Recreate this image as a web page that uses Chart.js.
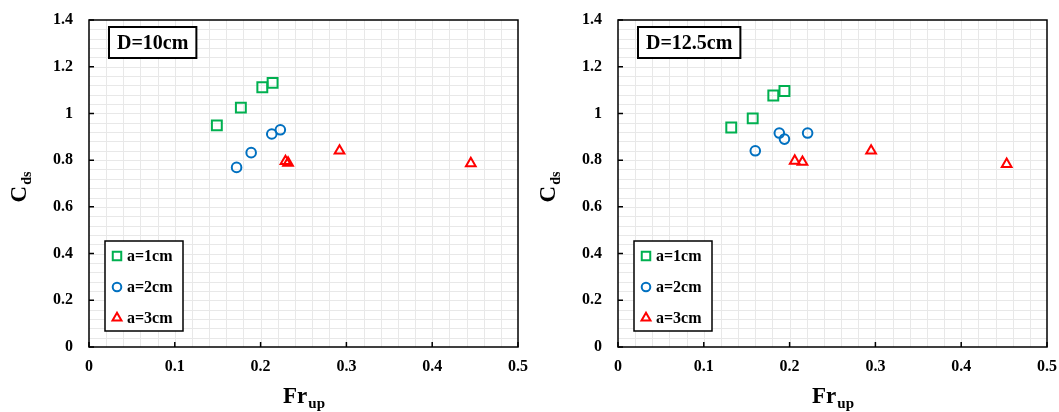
<!DOCTYPE html>
<html>
<head>
<meta charset="utf-8">
<script src="https://cdn.jsdelivr.net/npm/chart.js@4"></script>
<style>
html, body { margin: 0; padding: 0; background: #fff; }
#wrap { position: relative; width: 1059px; height: 412px; overflow: hidden; }
.panel { position: absolute; top: 0; width: 530px; height: 412px; }
</style>
</head>
<body>
<div id="wrap">
    <div class="panel" style="left:0"><canvas id="chartD10" width="530" height="412"></canvas></div>
    <div class="panel" style="left:529px"><canvas id="chartD125" width="530" height="412"></canvas></div>
</div>
<script>
// values
const seriesLabels = ['a=1cm', 'a=2cm', 'a=3cm'];
const panelTitles = ['D=10cm', 'D=12.5cm'];

const d10A1x = [0.149, 0.177, 0.202, 0.214];
const d10A1y = [0.949, 1.025, 1.112, 1.131];
const d10A2x = [0.172, 0.189, 0.213, 0.223];
const d10A2y = [0.769, 0.832, 0.912, 0.930];
const d10A3x = [0.229, 0.232, 0.292, 0.445];
const d10A3y = [0.795, 0.788, 0.840, 0.786];

const d125A1x = [0.132, 0.157, 0.181, 0.194];
const d125A1y = [0.940, 0.979, 1.077, 1.096];
const d125A2x = [0.160, 0.188, 0.194, 0.221];
const d125A2y = [0.840, 0.916, 0.890, 0.916];
const d125A3x = [0.206, 0.215, 0.295, 0.453];
const d125A3y = [0.797, 0.792, 0.840, 0.783];

const xTickValues = [0, 0.1, 0.2, 0.3, 0.4, 0.5];
const xTickLabels = ['0', '0.1', '0.2', '0.3', '0.4', '0.5'];
const yTickValues = [0, 0.2, 0.4, 0.6, 0.8, 1, 1.2, 1.4];
const yTickLabels = ['0', '0.2', '0.4', '0.6', '0.8', '1', '1.2', '1.4'];

const SERIF = '"Liberation Serif", "Times New Roman", serif';
const markerStyles = [
    { pointStyle: 'rect', color: '#00B050', radius: 7, legendRadius: 6 },
    { pointStyle: 'circle', color: '#0070C0', radius: 4.8, legendRadius: 4.3 },
    { pointStyle: 'triangle', color: '#FF0000', radius: 5.6, legendRadius: 5.2 }
];

function toPoints(xs, ys) {
    return xs.map((x, i) => ({ x: x, y: ys[i] }));
}

const framePlugin = {
    id: 'frame',
    beforeDatasetsDraw(chart) {
        const { ctx, chartArea: a, scales: { x, y } } = chart;
        ctx.save();
        // minor grid (Excel style)
        ctx.strokeStyle = '#e8e8e8';
        ctx.lineWidth = 1;
        ctx.beginPath();
        for (let i = 1; i < 25; i++) {
            const px = Math.round(x.getPixelForValue(i * 0.02)) + 0.5;
            ctx.moveTo(px, a.top);
            ctx.lineTo(px, a.bottom);
        }
        for (let i = 1; i < 35; i++) {
            const py = Math.round(y.getPixelForValue(i * 0.04)) + 0.5;
            ctx.moveTo(a.left, py);
            ctx.lineTo(a.right, py);
        }
        ctx.stroke();

        // frame
        ctx.strokeStyle = '#000';
        ctx.lineWidth = 1.5;
        ctx.strokeRect(a.left, a.top, a.right - a.left, a.bottom - a.top);

        // inward major ticks
        ctx.beginPath();
        x.ticks.forEach(t => {
            const px = x.getPixelForValue(t.value);
            ctx.moveTo(px, a.bottom);
            ctx.lineTo(px, a.bottom - 5);
        });
        y.ticks.forEach(t => {
            const py = y.getPixelForValue(t.value);
            ctx.moveTo(a.left, py);
            ctx.lineTo(a.left + 5, py);
        });
        ctx.stroke();
        ctx.restore();
    },
    afterDraw(chart) {
        const opts = chart.options.plugins.frame;
        const { ctx, chartArea: a } = chart;
        ctx.save();

        // panel title box
        ctx.font = 'bold 20px ' + SERIF;
        const tw = ctx.measureText(opts.title).width;
        const bx = a.left + 20, by = 27, bw = tw + 16, bh = 31;
        ctx.fillStyle = '#fff';
        ctx.fillRect(bx, by, bw, bh);
        ctx.strokeStyle = '#000';
        ctx.lineWidth = 2;
        ctx.strokeRect(bx, by, bw, bh);
        ctx.fillStyle = '#000';
        ctx.textBaseline = 'middle';
        ctx.textAlign = 'left';
        ctx.fillText(opts.title, bx + 8, by + bh / 2 + 1);

        // legend box
        const lx = a.left + 16, ly = 241, lw = 78, lh = 90;
        ctx.fillStyle = '#fff';
        ctx.fillRect(lx, ly, lw, lh);
        ctx.strokeStyle = '#000';
        ctx.lineWidth = 1.5;
        ctx.strokeRect(lx, ly, lw, lh);
        ctx.font = 'bold 16px ' + SERIF;
        chart.data.datasets.forEach((ds, i) => {
            const rowY = ly + 15 + i * 31;
            ctx.strokeStyle = markerStyles[i].color;
            ctx.fillStyle = 'rgba(0,0,0,0)';
            ctx.lineWidth = 2;
            Chart.helpers.drawPoint(ctx, {
                pointStyle: markerStyles[i].pointStyle,
                radius: markerStyles[i].legendRadius,
                rotation: 0,
                borderWidth: 2
            }, lx + 12, rowY);
            ctx.fillStyle = '#000';
            ctx.fillText(ds.label, lx + 22, rowY + 1);
        });

        // x axis title: Fr_up
        ctx.fillStyle = '#000';
        ctx.textBaseline = 'alphabetic';
        const cx = (a.left + a.right) / 2;
        ctx.font = 'bold 23px ' + SERIF;
        const w1 = ctx.measureText('Fr').width;
        ctx.font = 'bold 15px ' + SERIF;
        const w2 = ctx.measureText('up').width;
        let sx = cx - (w1 + w2) / 2;
        ctx.font = 'bold 23px ' + SERIF;
        ctx.fillText('Fr', sx, 403);
        ctx.font = 'bold 15px ' + SERIF;
        ctx.fillText('up', sx + w1 + 1, 408);

        // y axis title: C_ds
        const cy = (a.top + a.bottom) / 2 + 4;
        ctx.translate(26, cy);
        ctx.rotate(-Math.PI / 2);
        ctx.font = 'bold 23px ' + SERIF;
        const v1 = ctx.measureText('C').width;
        ctx.font = 'bold 14px ' + SERIF;
        const v2 = ctx.measureText('ds').width;
        sx = -(v1 + v2) / 2;
        ctx.font = 'bold 23px ' + SERIF;
        ctx.fillText('C', sx, 0);
        ctx.font = 'bold 14px ' + SERIF;
        ctx.fillText('ds', sx + v1 + 1, 5);
        ctx.restore();
    }
};

function buildDatasets(series) {
    return series.map((pts, i) => ({
        label: seriesLabels[i],
        data: pts,
        pointStyle: markerStyles[i].pointStyle,
        radius: markerStyles[i].radius,
        hoverRadius: markerStyles[i].radius,
        borderColor: markerStyles[i].color,
        backgroundColor: 'rgba(0,0,0,0)',
        borderWidth: 2,
        showLine: false
    }));
}

function createPanel(canvasId, title, series) {
    const tickFont = { family: SERIF, size: 16, weight: 'bold' };
    new Chart(document.getElementById(canvasId), {
        type: 'scatter',
        data: { datasets: buildDatasets(series) },
        options: {
            responsive: false,
            animation: false,
            layout: { padding: { left: 0, right: 12, top: 20, bottom: 0 } },
            plugins: {
                legend: { display: false },
                tooltip: { enabled: false },
                frame: { title: title }
            },
            scales: {
                x: {
                    type: 'linear',
                    min: 0,
                    max: 0.5,
                    afterBuildTicks: s => { s.ticks = xTickValues.map(v => ({ value: v })); },
                    afterFit: s => { s.height = 65; s.paddingLeft = 0; s.paddingRight = 0; },
                    grid: { display: false, drawTicks: false },
                    border: { display: false },
                    ticks: {
                        padding: 10,
                        color: '#000',
                        font: tickFont,
                        maxRotation: 0,
                        callback: (v, i) => xTickLabels[i]
                    }
                },
                y: {
                    type: 'linear',
                    min: 0,
                    max: 1.4,
                    afterBuildTicks: s => { s.ticks = yTickValues.map(v => ({ value: v })); },
                    afterFit: s => { s.width = 89; s.paddingTop = 0; s.paddingBottom = 0; },
                    grid: { display: false, drawTicks: false },
                    border: { display: false },
                    ticks: {
                        padding: 16,
                        color: '#000',
                        font: tickFont,
                        callback: (v, i) => yTickLabels[i]
                    }
                }
            }
        },
        plugins: [framePlugin]
    });
}

createPanel('chartD10', panelTitles[0], [
    toPoints(d10A1x, d10A1y),
    toPoints(d10A2x, d10A2y),
    toPoints(d10A3x, d10A3y)
]);
createPanel('chartD125', panelTitles[1], [
    toPoints(d125A1x, d125A1y),
    toPoints(d125A2x, d125A2y),
    toPoints(d125A3x, d125A3y)
]);
</script>
</body>
</html>
